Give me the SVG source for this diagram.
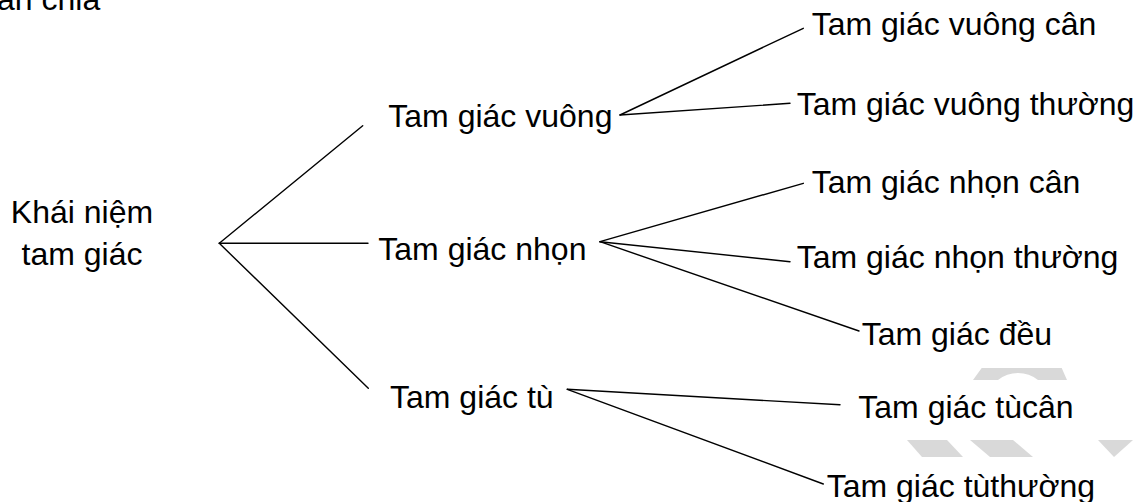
<svg xmlns="http://www.w3.org/2000/svg" width="1137" height="502" viewBox="0 0 1137 502">
<style>
text{font-family:"Liberation Sans",Arial,sans-serif;font-size:32px;fill:#000}
.c line{stroke:#000;stroke-width:1.4;stroke-linecap:round}
.wm{fill:#d9d9d9}
</style>
<rect width="1137" height="502" fill="#fff"/>
<g id="watermark">
<path class="wm" d="M973,380 L981.7,368 L1061.7,368 L1067,380 L1038,380 A32,32 0 0 0 998,380 Z"/>
<polygon class="wm" points="907,440 947,440 963,457 922,457"/>
<polygon class="wm" points="970,440 1013,440 1033,457 990,457"/>
<polygon class="wm" points="1098,440 1133,440 1114,457"/>
</g>
<g id="top-label"><text x="-3" y="10">ân chia</text></g>
<g class="c" id="connectors">
<line x1="219.3" y1="243.3" x2="362.7" y2="125.7"/>
<line x1="219.3" y1="243.3" x2="368" y2="243.3"/>
<line x1="219.3" y1="243.3" x2="368.3" y2="388.3"/>
<line x1="620" y1="115" x2="803.3" y2="28.3"/>
<line x1="620" y1="115" x2="790" y2="103.3"/>
<line x1="600" y1="241.7" x2="803.3" y2="183.3"/>
<line x1="600" y1="241.7" x2="790" y2="261.7"/>
<line x1="600" y1="241.7" x2="859" y2="331"/>
<line x1="567.3" y1="389.3" x2="840" y2="404.8"/>
<line x1="567.3" y1="389.3" x2="823.3" y2="484"/>
</g>
<g id="root"><text x="82" y="223.3" text-anchor="middle">Khái niệm</text><text x="82" y="265" text-anchor="middle">tam giác</text></g>
<g id="vuong"><text x="388.3" y="126.7">Tam giác vuông</text></g>
<g id="nhon"><text x="378.3" y="260">Tam giác nhọn</text></g>
<g id="tu"><text x="390" y="408.3">Tam giác tù</text></g>
<g id="vuong-can"><text x="811.7" y="35">Tam giác vuông cân</text></g>
<g id="vuong-thuong"><text x="796.7" y="115">Tam giác vuông thường</text></g>
<g id="nhon-can"><text x="811.7" y="193.3">Tam giác nhọn cân</text></g>
<g id="nhon-thuong"><text x="796.7" y="268.3">Tam giác nhọn thường</text></g>
<g id="deu"><text x="861.7" y="345">Tam giác đều</text></g>
<g id="tu-can"><text x="858.3" y="418.3">Tam giác tùcân</text></g>
<g id="tu-thuong"><text x="826.7" y="496.7">Tam giác tùthường</text></g>
</svg>
